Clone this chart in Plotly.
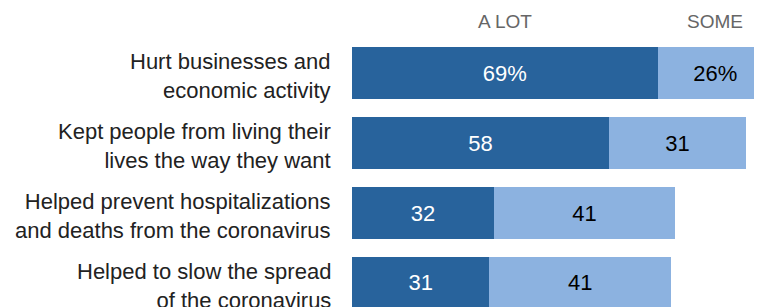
import plotly.graph_objects as go

categories = [
    "Hurt businesses and<br>economic activity",
    "Kept people from living their<br>lives the way they want",
    "Helped prevent hospitalizations<br>and deaths from the coronavirus",
    "Helped to slow the spread<br>of the coronavirus",
]
a_lot = [69, 58, 32, 31]
some = [26, 31, 41, 41]
a_lot_text = ["69%", "58", "32", "31"]
some_text = ["26%", "31", "41", "41"]
headers = ["A LOT", "SOME"]

DARK = "#28639C"
LIGHT = "#8CB2E0"
FONT = "Liberation Sans, Arial, sans-serif"

ypos = list(range(len(categories)))
LEFT = 344
WIDTH = 754
PLOT_W = WIDTH - LEFT

fig = go.Figure()
fig.add_trace(go.Bar(
    y=ypos, x=a_lot, orientation="h", marker=dict(color=DARK, line=dict(width=0)),
    text=a_lot_text, textposition="inside", insidetextanchor="middle",
    textfont=dict(color="white", size=22, family=FONT), width=0.73,
    hoverinfo="skip", cliponaxis=True,
))
fig.add_trace(go.Bar(
    y=ypos, x=some, orientation="h", marker=dict(color=LIGHT, line=dict(width=0)),
    text=some_text, textposition="inside", insidetextanchor="middle",
    textfont=dict(color="black", size=22, family=FONT), width=0.73,
    hoverinfo="skip", cliponaxis=True,
))

for hx, h in zip([a_lot[0] / 2, a_lot[0] + some[0] / 2], headers):
    fig.add_annotation(x=hx, y=-0.73, xref="x", yref="y", text=h,
                       showarrow=False, font=dict(size=19, color="#666666", family=FONT))

for yp, cat in zip(ypos, categories):
    fig.add_annotation(x=-19 / PLOT_W, y=yp + 0.04, xref="paper", yref="y", text=cat,
                       showarrow=False, xanchor="right", yanchor="middle", align="right",
                       font=dict(size=22, color="#222222", family=FONT))

fig.update_layout(
    barmode="stack",
    width=WIDTH, height=299,
    margin=dict(l=LEFT, r=0, t=0, b=0, autoexpand=False),
    paper_bgcolor="white", plot_bgcolor="white",
    showlegend=False,
    xaxis=dict(range=[0, PLOT_W / 4.43], visible=False, fixedrange=True, automargin=False),
    yaxis=dict(
        range=[3.343, -0.929], showticklabels=False,
        showgrid=False, zeroline=False, showline=False,
        fixedrange=True, automargin=False,
    ),
)

fig.write_html("out.html")
